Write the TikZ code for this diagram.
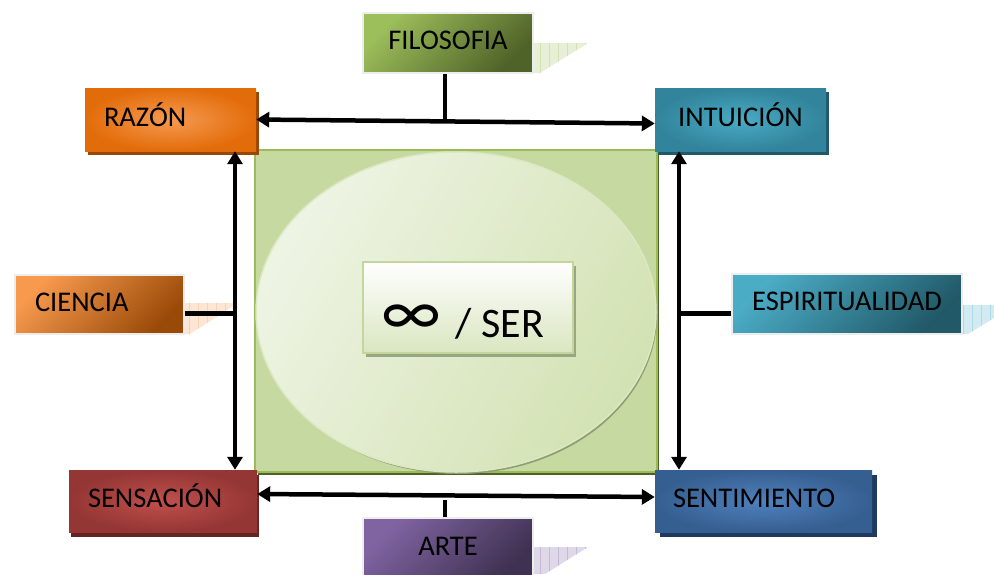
\documentclass[tikz,border=0pt]{standalone}
\usepackage{fontspec}
\setmainfont{Carlito}
\usetikzlibrary{arrows.meta,calc,shapes.geometric,shadows}

\definecolor{filoA}{HTML}{9DBF5B}\definecolor{filoB}{HTML}{4F6228}
\definecolor{cienA}{HTML}{F79A4E}\definecolor{cienB}{HTML}{9A4A08}
\definecolor{espA}{HTML}{4BACC6}\definecolor{espB}{HTML}{215968}
\definecolor{arteA}{HTML}{8064A2}\definecolor{arteB}{HTML}{3F3151}
\definecolor{razIn}{HTML}{F59A52}\definecolor{razOut}{HTML}{E36C0A}\definecolor{razSh}{HTML}{984806}
\definecolor{intIn}{HTML}{4AAAC4}\definecolor{intOut}{HTML}{31849B}\definecolor{intSh}{HTML}{205867}
\definecolor{senIn}{HTML}{C0504D}\definecolor{senOut}{HTML}{943634}\definecolor{senSh}{HTML}{632523}
\definecolor{timIn}{HTML}{4F81BD}\definecolor{timOut}{HTML}{365F91}\definecolor{timSh}{HTML}{1F3A5F}
\definecolor{coreTop}{HTML}{C6D9A0}\definecolor{coreMid}{HTML}{A9C46D}\definecolor{coreRim}{HTML}{9BBB59}
\definecolor{coreSh}{HTML}{4F6228}
\definecolor{orbA}{HTML}{EEF4E4}\definecolor{orbB}{HTML}{D3E2B3}\definecolor{orbSh}{HTML}{8E9E72}
\definecolor{serB}{HTML}{D9E6C0}\definecolor{serRim}{HTML}{C3D69B}\definecolor{serSh}{HTML}{9AA681}
\definecolor{rimgray}{HTML}{EDEDED}

\tikzset{
  lbl/.style={font=\fontsize{28.5}{32}\selectfont, text=black,
      text height=18.5pt, text depth=5pt},
  tile/.style={rectangle, inner sep=0pt, lbl},
  padleft/.style 2 args={text width=#1, align=left, inner xsep=#2},
  diagtile/.style 2 args={tile, shade, top color=#1, bottom color=#2,
      shading angle=45, draw=rimgray, line width=1.5pt},
  glowtile/.style 2 args={tile, shade, inner color=#1, outer color=#2},
  conn/.style={line width=4.5pt, black},
  biarrow/.style={conn, {Triangle[length=13pt,width=15pt]}-{Triangle[length=13pt,width=15pt]}},
  gridline/.style={line width=0.4pt},
}

\begin{document}
\begin{tikzpicture}[x=1pt,y=-1pt]
\clip (0,0) rectangle (994,574);
\fill[white] (0,0) rectangle (994,574);

% patterned shadows trailing the gradient tiles
\begin{scope}
  \clip (533,43) -- (588,43) -- (540,73) -- (533,73) -- cycle;
  \fill[filoA!25] (520,38) rectangle (600,80);
  \draw[gridline, filoA!45, step=9] (520,38) grid (600,80);
\end{scope}
\begin{scope}
  \clip (184,303) -- (238,303) -- (190,334) -- (184,334) -- cycle;
  \fill[cienA!25] (180,300) rectangle (240,340);
  \draw[gridline, cienA!45, step=9] (180,300) grid (240,340);
\end{scope}
\begin{scope}
  \clip (962,305) -- (994,305) -- (994,318) -- (968,334) -- (962,334) -- cycle;
  \fill[espA!25] (960,300) rectangle (994,340);
  \draw[gridline, espA!45, step=9] (960,300) grid (994,340);
\end{scope}
\begin{scope}
  \clip (533,547) -- (588,547) -- (545,574) -- (533,574) -- cycle;
  \fill[arteA!25] (530,540) rectangle (600,574);
  \draw[gridline, arteA!45, step=9] (530,540) grid (600,574);
\end{scope}

% central square, disc and title box
\fill[coreSh] (258,153) rectangle (659,475);
\node[rectangle, inner sep=0pt, minimum width=402pt, minimum height=322pt,
      shade, top color=coreTop, middle color=coreMid, bottom color=coreTop,
      draw=coreRim, line width=2pt] (core) at (456,311) {};
\fill[orbSh] (458,315) ellipse [x radius=199, y radius=159];
\node[ellipse, inner sep=0pt, minimum width=400pt, minimum height=320pt,
      shade, top color=orbA, bottom color=orbB, shading angle=60,
      draw=orbB!80!white, line width=1.5pt] (orb) at (456,312) {};
\fill[serSh] (366,266) rectangle (576,357);
\node[rectangle, inner sep=0pt, minimum width=210pt, minimum height=91pt,
      shade, top color=white, bottom color=serB,
      draw=serRim, line width=2pt] (ser) at (468,307.5) {};
\node[anchor=base, inner sep=0pt] (sertext) at (463,337)
  {\raisebox{2pt}{\fontsize{70}{70}\selectfont ∞}\hspace{14pt}{\fontsize{42}{42}\selectfont / SER}};

% surrounding tiles
\node[diagtile={filoA}{filoB}, minimum width=170pt, minimum height=60pt]
  (filosofia) at (448,43) {FILOSOFIA};
\node[glowtile={razIn}{razOut}, minimum width=171pt, minimum height=63pt,
      padleft={133pt}{19pt},
      drop shadow={shadow xshift=3pt, shadow yshift=-4pt, fill=razSh, opacity=1}]
  (razon) at (170.5,119.5) {RAZÓN};
\node[glowtile={intIn}{intOut}, minimum width=171pt, minimum height=63pt,
      drop shadow={shadow xshift=3pt, shadow yshift=-4pt, fill=intSh, opacity=1}]
  (intuicion) at (740.5,119.5) {INTUICIÓN};
\node[diagtile={cienA}{cienB}, minimum width=169pt, minimum height=59pt,
      padleft={129pt}{20pt}]
  (ciencia) at (99.5,304.5) {CIENCIA};
\node[diagtile={espA}{espB}, minimum width=230pt, minimum height=60pt]
  (espiritualidad) at (847,304) {ESPIRITUALIDAD};
\node[glowtile={senIn}{senOut}, minimum width=188pt, minimum height=62pt,
      padleft={150pt}{19pt},
      drop shadow={shadow xshift=2pt, shadow yshift=-5pt, fill=senSh, opacity=1}]
  (sensacion) at (163,501) {SENSACIÓN};
\node[glowtile={timIn}{timOut}, minimum width=217pt, minimum height=62pt,
      padleft={181pt}{18pt},
      drop shadow={shadow xshift=5pt, shadow yshift=-5pt, fill=timSh, opacity=1}]
  (sentimiento) at (763.5,501) {SENTIMIENTO};
\node[diagtile={arteA}{arteB}, minimum width=170pt, minimum height=62pt]
  (arte) at (448,549) {ARTE};

% connectors
\coordinate (lx) at (235,0);
\coordinate (rx) at (679,0);
\coordinate (artetop) at ($(arte.north)+(-3,-17)$);

\draw[conn] ([xshift=-3pt]filosofia.south) -- ($([xshift=-3pt]filosofia.south |- razon.east)+(0,2)$);
\draw[conn] ([yshift=-9pt]ciencia.east) -- ([yshift=-9pt]ciencia.east -| lx);
\draw[conn] ([yshift=-9.5pt]espiritualidad.west) -- ([yshift=-9.5pt]espiritualidad.west -| rx);
\draw[conn] ([xshift=-3pt]arte.north) -- (artetop);

\draw[biarrow] (razon.east) -- ([yshift=-4pt]intuicion.west);
\draw[biarrow] ([yshift=7pt]sensacion.east) -- ([yshift=4pt]sentimiento.west);
\draw[biarrow] (razon.south -| lx) -- (sensacion.north -| lx);
\draw[biarrow] (intuicion.south -| rx) -- (sentimiento.north -| rx);
\end{tikzpicture}
\end{document}
